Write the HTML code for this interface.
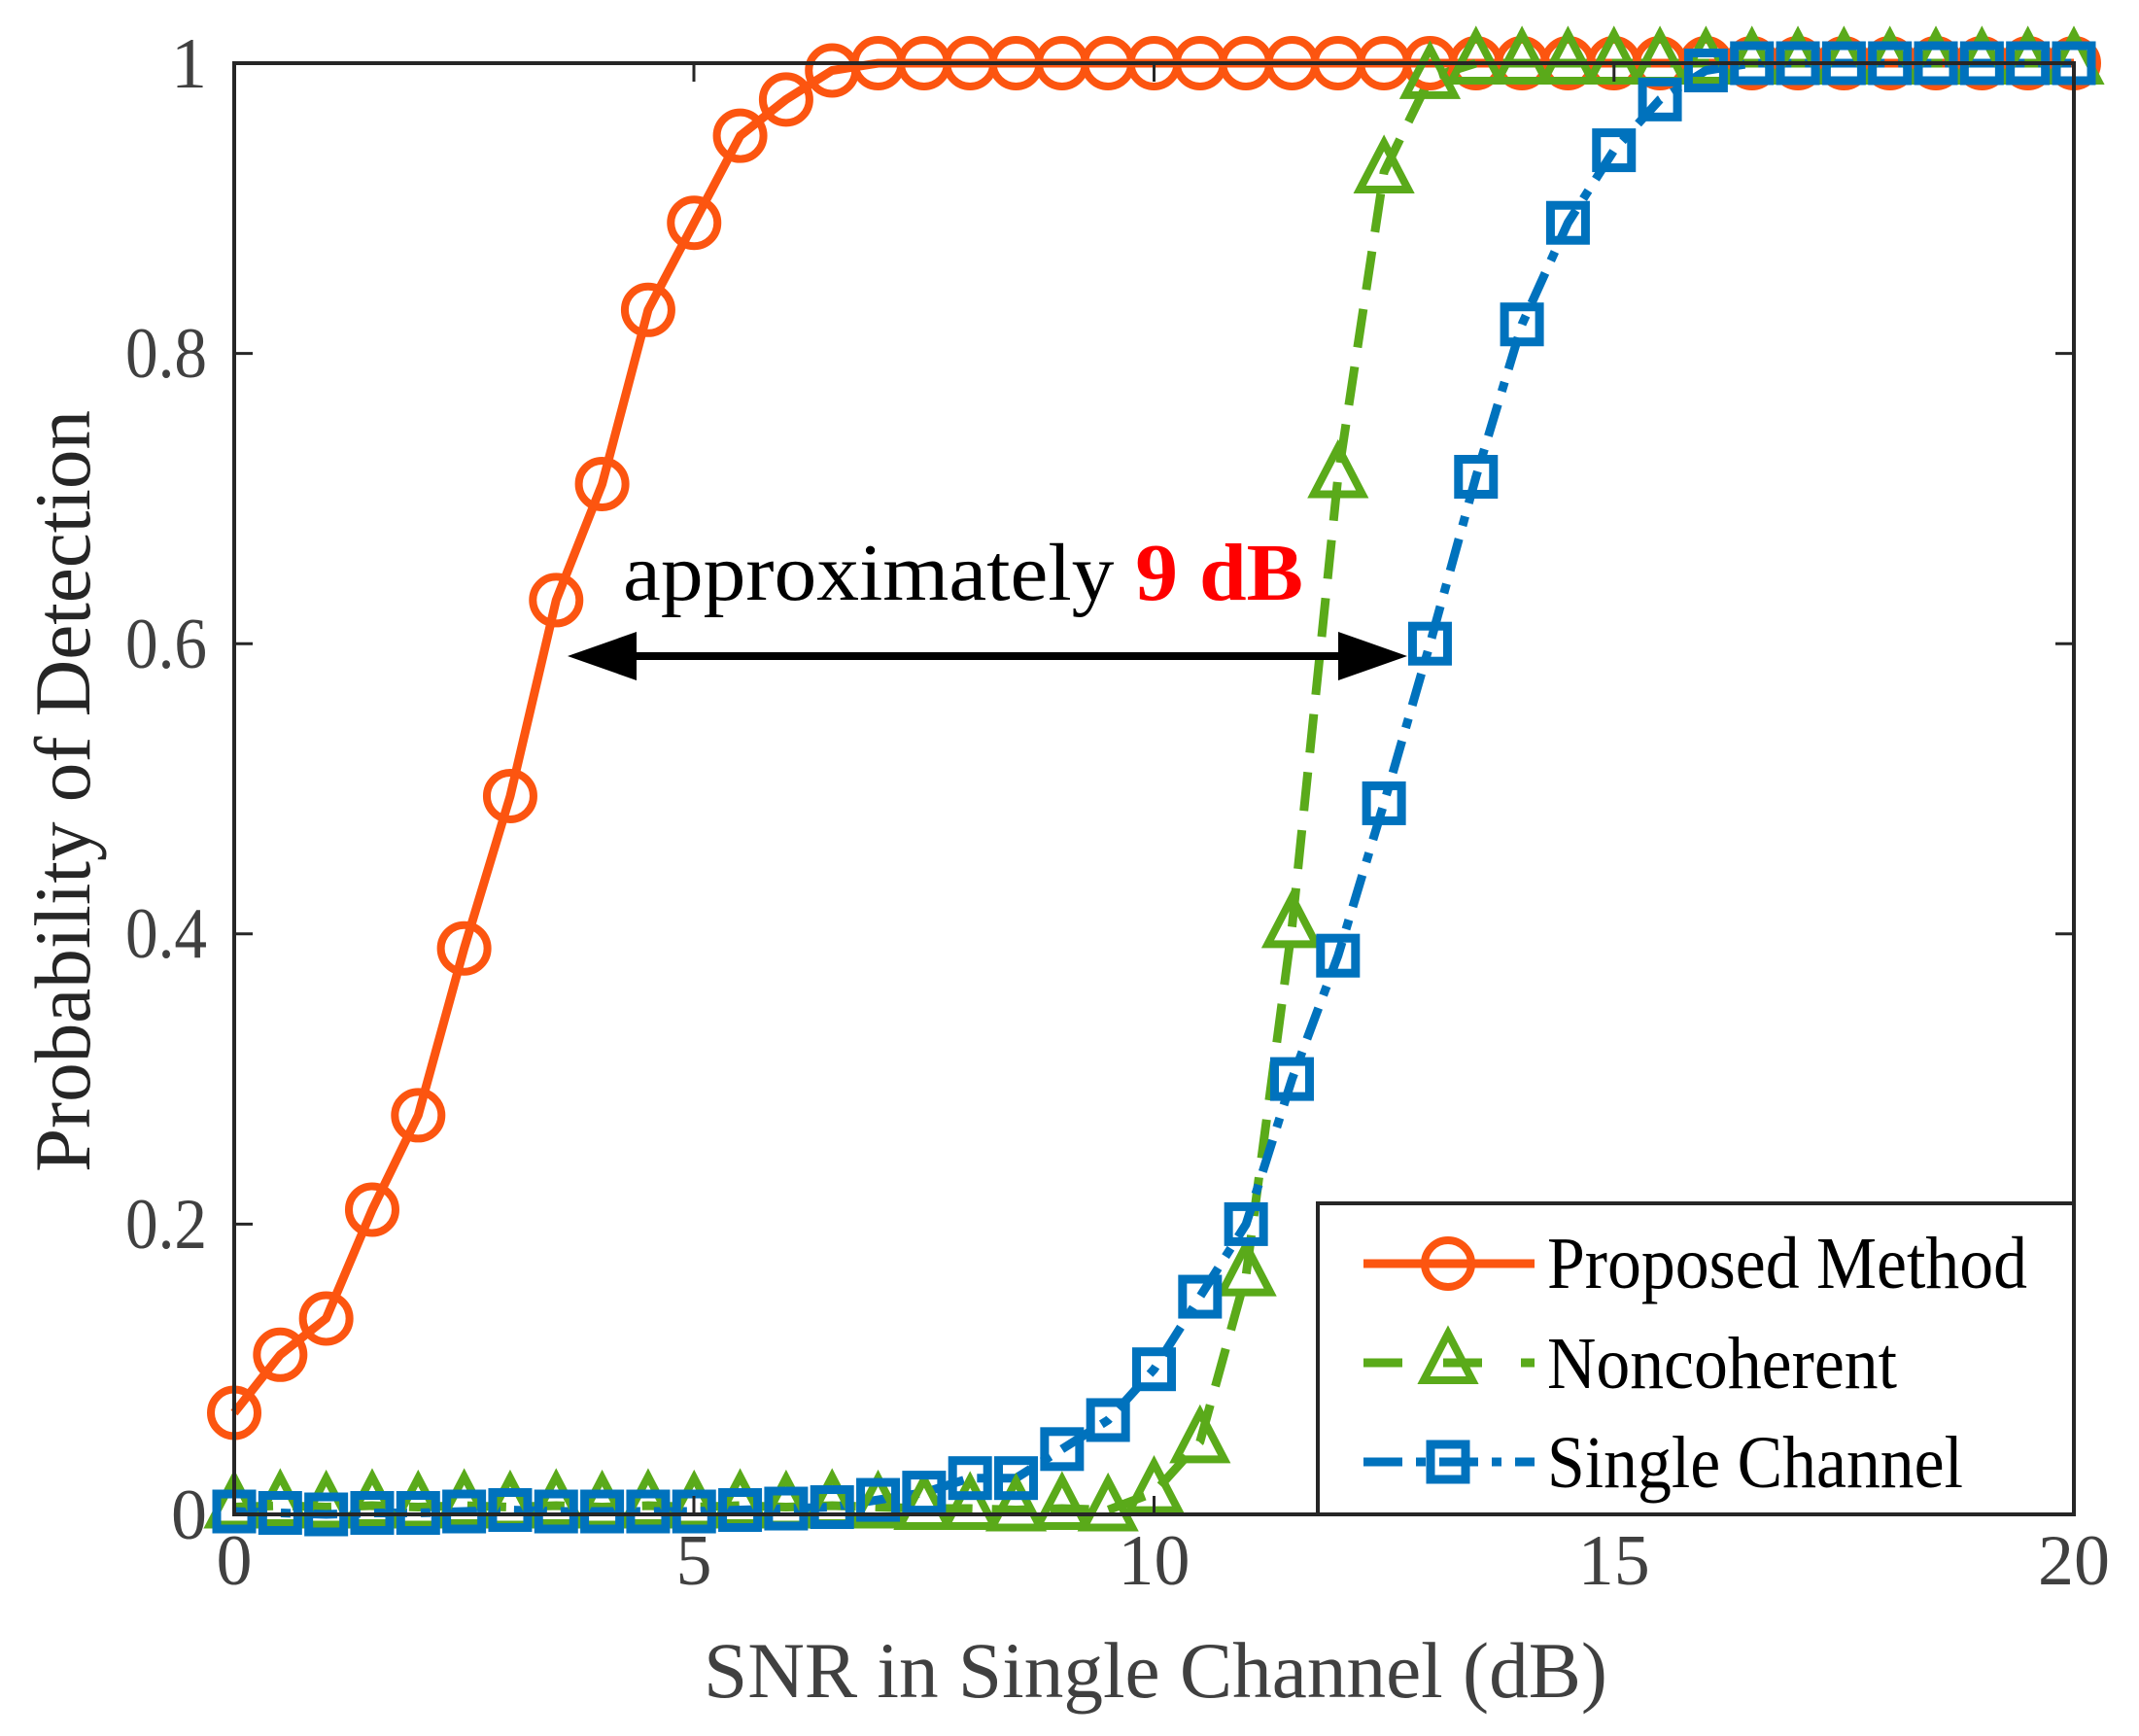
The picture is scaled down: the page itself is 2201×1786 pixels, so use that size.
<!DOCTYPE html>
<html><head><meta charset="utf-8"><style>
html,body{margin:0;padding:0;background:#fff;}
svg{display:block;}
text{font-family:"Liberation Serif","Times New Roman",serif;}
</style></head><body>
<svg id="s" width="2201" height="1786" viewBox="0 0 2201 1786" xmlns="http://www.w3.org/2000/svg">
<rect width="2201" height="1786" fill="#fff"/>
<g id="plot"></g>
<rect x="241" y="65" width="1893" height="1493" fill="none" stroke="#262626" stroke-width="4"/>
<g stroke="#262626" stroke-width="3">
<line x1="241" y1="1259.4" x2="260" y2="1259.4"/><line x1="2134" y1="1259.4" x2="2115" y2="1259.4"/>
<line x1="241" y1="960.8" x2="260" y2="960.8"/><line x1="2134" y1="960.8" x2="2115" y2="960.8"/>
<line x1="241" y1="662.2" x2="260" y2="662.2"/><line x1="2134" y1="662.2" x2="2115" y2="662.2"/>
<line x1="241" y1="363.6" x2="260" y2="363.6"/><line x1="2134" y1="363.6" x2="2115" y2="363.6"/>
<line x1="714" y1="1558" x2="714" y2="1539"/><line x1="714" y1="65" x2="714" y2="84"/>
<line x1="1187.5" y1="1558" x2="1187.5" y2="1539"/><line x1="1187.5" y1="65" x2="1187.5" y2="84"/>
<line x1="1660.8" y1="1558" x2="1660.8" y2="1539"/><line x1="1660.8" y1="65" x2="1660.8" y2="84"/>
</g>
<g fill="#404040" font-size="74" text-anchor="end">
<text x="213" y="1583">0</text>
<text x="213" y="1284" textLength="84" lengthAdjust="spacingAndGlyphs">0.2</text>
<text x="213" y="985" textLength="84" lengthAdjust="spacingAndGlyphs">0.4</text>
<text x="213" y="687" textLength="84" lengthAdjust="spacingAndGlyphs">0.6</text>
<text x="213" y="388" textLength="84" lengthAdjust="spacingAndGlyphs">0.8</text>
<text x="213" y="90">1</text>
</g>
<g fill="#404040" font-size="74" text-anchor="middle">
<text x="241" y="1630">0</text>
<text x="714" y="1630">5</text>
<text x="1187.5" y="1630">10</text>
<text x="1660.8" y="1630">15</text>
<text x="2134" y="1630">20</text>
</g>
<text x="724" y="1746" font-size="82" fill="#404040" textLength="930" lengthAdjust="spacingAndGlyphs">SNR in Single Channel (dB)</text>
<text transform="translate(92,1206) rotate(-90)" font-size="82" fill="#262626" textLength="784" lengthAdjust="spacingAndGlyphs">Probability of Detection</text>
<text x="641" y="617" font-size="84" fill="#000" textLength="700" lengthAdjust="spacingAndGlyphs">approximately <tspan fill="#ff0000" font-weight="bold">9 dB</tspan></text>
<line x1="620" y1="675" x2="1410" y2="675" stroke="#000" stroke-width="8"/>
<polygon points="584,675 655,650 655,700" fill="#000"/>
<polygon points="1448,675 1377,650 1377,700" fill="#000"/>
<rect x="1356" y="1238" width="778" height="320" fill="#fff" stroke="#262626" stroke-width="4"/>
<g id="leg"></g>
<g font-size="76" fill="#000">
<text x="1592" y="1325" textLength="494" lengthAdjust="spacingAndGlyphs">Proposed Method</text>
<text x="1592" y="1428" textLength="360" lengthAdjust="spacingAndGlyphs">Noncoherent</text>
<text x="1592" y="1530" textLength="428" lengthAdjust="spacingAndGlyphs">Single Channel</text>
</g>
</svg>
<script>
var X=function(v){return 241+v*94.65;},Y=function(v){return 1558-v*1493;};
var P=[0.07,0.11,0.135,0.21,0.275,0.39,0.495,0.63,0.71,0.83,0.89,0.95,0.975,0.995];
var N=[0.005,0.006,0.005,0.006,0.005,0.006,0.005,0.006,0.005,0.006,0.005,0.006,0.005,0.006,0.005,0.004,0.004,0.003,0.004,0.003,0.015,0.05,0.165,0.405,0.715,0.925,0.99];
var S=[0.002,0.001,0,0.001,0.001,0.002,0.003,0.002,0.002,0.002,0.002,0.003,0.004,0.005,0.01,0.015,0.025,0.025,0.045,0.065,0.10,0.15,0.2,0.3,0.385,0.49,0.6,0.715,0.82,0.89,0.94,0.975,0.995];
function full(a){var r=a.slice();while(r.length<41)r.push(1);return r;}
P=full(P);N=full(N);S=full(S);
var ns="http://www.w3.org/2000/svg",g=document.getElementById('plot'),lg=document.getElementById('leg');
function el(p,t,a){var e=document.createElementNS(ns,t);for(var k in a)e.setAttribute(k,a[k]);p.appendChild(e);return e;}
function line(d,col,dash){var pts=d.map(function(v,i){return X(i*0.5).toFixed(1)+','+Y(v).toFixed(1)}).join(' ');
 var a={points:pts,fill:'none',stroke:col,'stroke-width':9,'stroke-linejoin':'round'};if(dash)a['stroke-dasharray']=dash;el(g,'polyline',a);}
function circ(p,x,y){el(p,'circle',{cx:x,cy:y,r:24,fill:'none',stroke:'#fc5510','stroke-width':8});}
function tri(p,x,y){el(p,'polygon',{points:(x)+','+(y-30)+' '+(x-25)+','+(y+18)+' '+(x+25)+','+(y+18),fill:'none',stroke:'#5aaa1a','stroke-width':8});}
function sq(p,x,y){el(p,'rect',{x:x-18,y:y-18,width:36,height:36,fill:'none',stroke:'#0072bd','stroke-width':9});}
line(P,'#fc5510');line(N,'#5aaa1a','40 20');line(S,'#0072bd','34 14 10 14');
for(var i=0;i<41;i++){circ(g,X(i*.5),Y(P[i]));}
for(var i=0;i<41;i++){tri(g,X(i*.5),Y(N[i]));}
for(var i=0;i<41;i++){sq(g,X(i*.5),Y(S[i]));}
el(lg,'line',{x1:1403,y1:1300,x2:1579,y2:1300,stroke:'#fc5510','stroke-width':9});circ(lg,1490,1300);
el(lg,'line',{x1:1403,y1:1402,x2:1579,y2:1402,stroke:'#5aaa1a','stroke-width':9,'stroke-dasharray':'40 42 40 40 14'});tri(lg,1490,1402);
el(lg,'line',{x1:1403,y1:1504,x2:1579,y2:1504,stroke:'#0072bd','stroke-width':9,'stroke-dasharray':'40 14 10 14'});sq(lg,1490,1504);
</script>
</body></html>
